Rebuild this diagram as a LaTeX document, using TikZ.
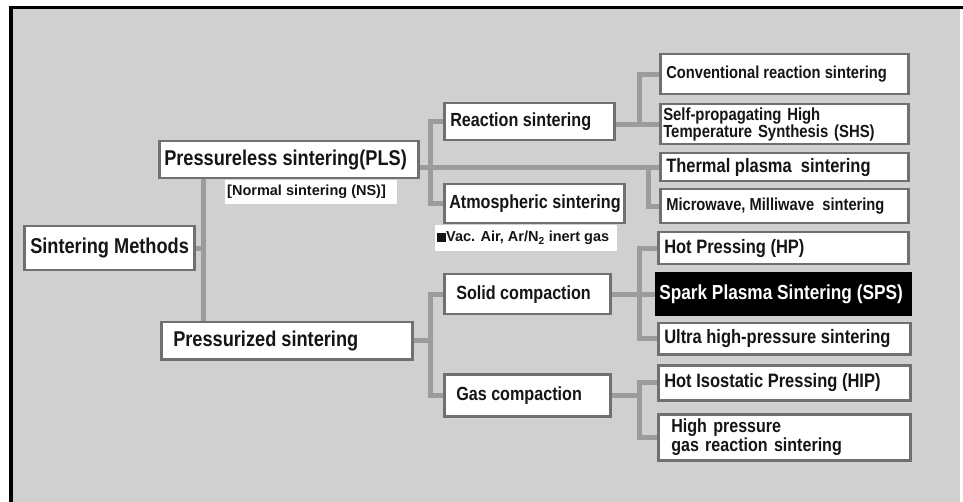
\documentclass[tikz,border=0pt]{standalone}
\usepackage{fontspec}
\setmainfont{Liberation Sans}
\newfontfamily\cf{Liberation Sans}[FakeStretch=0.85, BoldFeatures={FakeStretch=0.85}]
\newcommand\lefttxt[2]{\makebox[#1][l]{#2}}
\pgfdeclarelayer{bg}
\pgfdeclarelayer{lines}
\pgfsetlayers{bg,lines,main}
\definecolor{bggray}{HTML}{D0D0D0}
\definecolor{linegray}{HTML}{9C9C9C}
\definecolor{boxgray}{HTML}{707070}
\definecolor{ink}{HTML}{151515}
\tikzset{
  box/.style={draw=boxgray, line width=2.5pt, fill=white, anchor=north west,
    inner xsep=6pt, inner ysep=0pt, align=left, text=ink},
  fbig/.style={font=\cf\bfseries\fontsize{21.4}{24}\selectfont},
  fmid/.style={font=\cf\bfseries\fontsize{19}{22}\selectfont},
  fright/.style={font=\cf\bfseries\fontsize{19.4}{22}\selectfont},
  fsmall/.style={font=\cf\bfseries\fontsize{17.3}{20}\selectfont},
  ftwo/.style={font=\cf\bfseries\fontsize{17.5}{15}\selectfont},
  conn/.style={draw=linegray, line width=5pt},
  tag/.style={fill=white, anchor=north west, inner xsep=2pt, inner ysep=0pt,
    text=ink, font=\bfseries\fontsize{14.5}{16}\selectfont},
}
\begin{document}
\begin{tikzpicture}[x=1pt, y=-1pt]
\useasboundingbox (0,0) rectangle (963,502);
\begin{pgfonlayer}{bg}
  \fill[white] (0,0) rectangle (963,502);
  \fill[bggray] (12,9) rectangle (960,502);
  \draw[black, line width=3.5pt] (11,502) -- (11,7.5) -- (963,7.5);
\end{pgfonlayer}

% level 0 and 1
\node[box, fbig, minimum height=44pt, inner xsep=6pt] (SM) at (23,225) {\lefttxt{158pt}{Sintering Methods}};
\node[box, fbig, minimum height=37pt, inner xsep=5pt] (PLS) at (158,140) {\lefttxt{249pt}{Pressureless sintering(PLS)}};
\node[box, fbig, minimum height=37pt, inner xsep=12pt] (PZ) at (160,321) {\lefttxt{227pt}{Pressurized sintering}};
\node[tag, minimum height=24pt] (NS) at (225,180) {\lefttxt{168pt}{[Normal sintering (NS)]}};

% level 2
\node[box, fmid, minimum height=37pt] (RS) at (443,102) {\lefttxt{158pt}{Reaction sintering}};
\node[box, fmid, minimum height=39pt, inner xsep=5pt] (AS) at (443,183) {\lefttxt{170pt}{Atmospheric sintering}};
\node[tag, minimum height=26pt] (VAC) at (435,225) {\lefttxt{178pt}{\rule{9pt}{9pt}Vac. Air, Ar/N\textsubscript{2} inert gas}};
\node[box, fmid, minimum height=40pt, inner xsep=12pt] (SC) at (443,273) {\lefttxt{142pt}{Solid compaction}};
\node[box, fmid, minimum height=42pt, inner xsep=12pt] (GC) at (443,373) {\lefttxt{142pt}{Gas compaction}};

% level 3
\node[box, fsmall, minimum height=40pt] (CONV) at (659,53) {\lefttxt{236pt}{Conventional reaction sintering}};
\node[box, ftwo, text width=242pt, minimum height=40pt, inner xsep=3pt] (SHS) at (659,103) {Self-propagating High\\Temperature Synthesis (SHS)};
\node[box, fright, minimum height=28pt] (TP) at (659,152) {\lefttxt{236pt}{Thermal plasma\ \ sintering}};
\node[box, fsmall, minimum height=34pt] (MW) at (659,188) {\lefttxt{236pt}{Microwave, Milliwave\ \ sintering}};
\node[box, fright, minimum height=32pt] (HP) at (657,231) {\lefttxt{238pt}{Hot Pressing (HP)}};
\node[box, draw=black, fill=black, text=white, minimum height=42pt, inner xsep=3pt,
      font=\cf\bfseries\fontsize{20.3}{23}\selectfont] (SPS) at (655,272) {\lefttxt{248pt}{Spark Plasma Sintering (SPS)}};
\node[box, fright, minimum height=31pt] (UHP) at (657,322) {\lefttxt{240pt}{Ultra high-pressure sintering}};
\node[box, fright, minimum height=35pt] (HIP) at (657,364) {\lefttxt{240pt}{Hot Isostatic Pressing (HIP)}};
\node[box, font=\cf\bfseries\fontsize{18.9}{17}\selectfont, text width=226pt, minimum height=46pt, inner xsep=13pt] (HPG) at (657,413) {High pressure\\gas reaction sintering};

% junction columns
\coordinate (jA) at (203,0);
\coordinate (jB) at (430,0);
\coordinate (jC) at (648,0);
\coordinate (jD) at (639,0);

\begin{pgfonlayer}{lines}
  \draw[conn] (SM.east) -- (SM.east -| jA);
  \draw[conn] (PLS.south -| jA) -- (PZ.north -| jA);
  \draw[conn] (PLS.east |- TP.west) -- (TP.west);
  \draw[conn] (RS.west) -| (jB |- AS.west) -- (AS.west);
  \draw[conn] (TP.west -| jC) |- (MW.west);
  \draw[conn] (RS.east |- SHS.west) -- (SHS.west);
  \draw[conn] (CONV.west) -| (jD |- SHS.west);
  \draw[conn] (PZ.east) -- (PZ.east -| jB);
  \draw[conn] (SC.west) -| (jB |- GC.west) -- (GC.west);
  \draw[conn] (SC.east |- SPS.west) -- (SPS.west);
  \draw[conn] (HP.west) -| (jD |- UHP.west) -- (UHP.west);
  \draw[conn] (GC.east) -- (GC.east -| jD);
  \draw[conn] (HIP.west) -| (jD |- HPG.west) -- (HPG.west);
\end{pgfonlayer}
\end{tikzpicture}
\end{document}
